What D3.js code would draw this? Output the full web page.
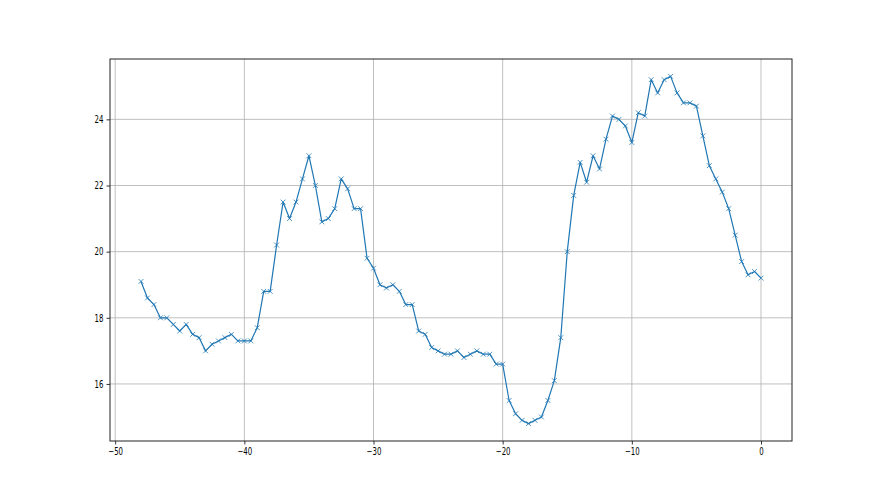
<!DOCTYPE html>
<html>
<head>
<meta charset="utf-8">
<script src="https://cdn.jsdelivr.net/npm/d3@7/dist/d3.min.js"></script>
<style>
  html, body { margin: 0; padding: 0; background: #fff; }
  svg { display: block; }
  text { font-family: "DejaVu Sans", sans-serif; }
</style>
</head>
<body>
<svg id="chart" width="880" height="495"></svg>
<script>
const xValues = [-48,-47.5,-47,-46.5,-46,-45.5,-45,-44.5,-44,-43.5,-43,-42.5,-42,-41.5,-41,-40.5,-40,-39.5,-39,-38.5,-38,-37.5,-37,-36.5,-36,-35.5,-35,-34.5,-34,-33.5,-33,-32.5,-32,-31.5,-31,-30.5,-30,-29.5,-29,-28.5,-28,-27.5,-27,-26.5,-26,-25.5,-25,-24.5,-24,-23.5,-23,-22.5,-22,-21.5,-21,-20.5,-20,-19.5,-19,-18.5,-18,-17.5,-17,-16.5,-16,-15.5,-15,-14.5,-14,-13.5,-13,-12.5,-12,-11.5,-11,-10.5,-10,-9.5,-9,-8.5,-8,-7.5,-7,-6.5,-6,-5.5,-5,-4.5,-4,-3.5,-3,-2.5,-2,-1.5,-1,-0.5,0];
const yValues = [19.1,18.6,18.4,18.0,18.0,17.8,17.6,17.8,17.5,17.4,17.0,17.2,17.3,17.4,17.5,17.3,17.3,17.3,17.7,18.8,18.8,20.2,21.5,21.0,21.5,22.2,22.9,22.0,20.9,21.0,21.3,22.2,21.9,21.3,21.3,19.8,19.5,19.0,18.9,19.0,18.8,18.4,18.4,17.6,17.5,17.1,17.0,16.9,16.9,17.0,16.8,16.9,17.0,16.9,16.9,16.6,16.6,15.5,15.1,14.9,14.8,14.9,15.0,15.5,16.1,17.4,20.0,21.7,22.7,22.1,22.9,22.5,23.4,24.1,24.0,23.8,23.3,24.2,24.1,25.2,24.8,25.2,25.3,24.8,24.5,24.5,24.4,23.5,22.6,22.2,21.8,21.3,20.5,19.7,19.3,19.4,19.2];
const xTicks = [-50,-40,-30,-20,-10,0];
const yTicks = [16,18,20,22,24];

(function(){
const svg = d3.select("#chart");
const L = 110, R = 792, T = 59, B = 441;
const textScale = 0.7;

const xExt = d3.extent(xValues), yExt = d3.extent(yValues);
const xPad = (xExt[1]-xExt[0])*0.05, yPad = (yExt[1]-yExt[0])*0.05;
const x = d3.scaleLinear().domain([xExt[0]-xPad, xExt[1]+xPad]).range([L, R]);
const y = d3.scaleLinear().domain([yExt[0]-yPad, yExt[1]+yPad]).range([B, T]);

const data = xValues.map((v,i)=>({x:v, y:yValues[i]}));

// grid
const grid = svg.append("g");
grid.selectAll(".gx").data(xTicks).join("line").attr("class","gx")
  .attr("x1", d=>x(d)).attr("x2", d=>x(d)).attr("y1", T).attr("y2", B)
  .attr("stroke", "#b0b0b0").attr("stroke-width", 0.8);
grid.selectAll(".gy").data(yTicks).join("line").attr("class","gy")
  .attr("y1", d=>y(d)).attr("y2", d=>y(d)).attr("x1", L).attr("x2", R)
  .attr("stroke", "#b0b0b0").attr("stroke-width", 0.8);

// line
svg.append("path").datum(data)
  .attr("fill", "none").attr("stroke", "#1f77b4").attr("stroke-width", 1.2)
  .attr("stroke-linejoin", "round")
  .attr("d", d3.line().x(d=>x(d.x)).y(d=>y(d.y)));

// markers
const m = 2.4;
svg.append("g").selectAll("path").data(data).join("path")
  .attr("d", d=>{const cx=x(d.x), cy=y(d.y); return `M${cx-m},${cy-m}L${cx+m},${cy+m}M${cx-m},${cy+m}L${cx+m},${cy-m}`;})
  .attr("stroke", "#1f77b4").attr("stroke-width", 0.8).attr("fill", "none");

// axes
const fmt = d3.format("d");
const xAxis = svg.append("g").attr("transform", `translate(0,${B})`)
  .call(d3.axisBottom(x).tickValues(xTicks).tickFormat(fmt).tickSize(3.5).tickPadding(3));
const yAxis = svg.append("g").attr("transform", `translate(${L},0)`)
  .call(d3.axisLeft(y).tickValues(yTicks).tickFormat(fmt).tickSize(3.5).tickPadding(3));
[xAxis, yAxis].forEach(a=>{
  a.select(".domain").remove();
  a.selectAll(".tick line").attr("stroke", "#000").attr("stroke-width", 0.8);
  a.selectAll(".tick text").attr("font-size", 10).attr("fill", "#000")
    .attr("font-family", "DejaVu Sans, sans-serif");
});
xAxis.selectAll(".tick text").attr("transform", `scale(${textScale},1)`);
yAxis.selectAll(".tick text").attr("x", -6.5/textScale).attr("transform", `scale(${textScale},1)`);

// frame
svg.append("rect").attr("x", L).attr("y", T).attr("width", R-L).attr("height", B-T)
  .attr("fill", "none").attr("stroke", "#222").attr("stroke-width", 1);
})();
</script>
</body>
</html>
